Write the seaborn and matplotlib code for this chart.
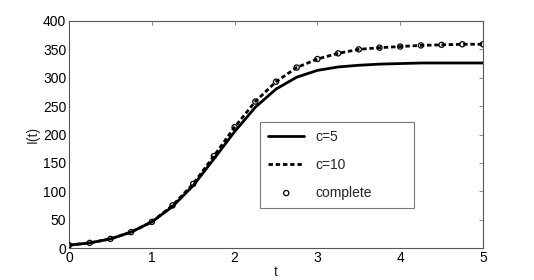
import matplotlib
matplotlib.use("Agg")
import matplotlib.pyplot as plt
import seaborn as sns
import pandas as pd

t = [0, 0.25, 0.5, 0.75, 1, 1.25, 1.5, 1.75, 2, 2.25, 2.5, 2.75, 3, 3.25, 3.5, 3.75, 4, 4.25, 4.5, 4.75, 5]
c5 = [5, 9, 16, 28, 46, 73, 110, 157, 205, 248, 280, 301, 313, 319, 322, 324, 325, 326, 326, 326, 326]
c10 = [5, 9, 16, 28, 46, 75, 113, 162, 213, 258, 293, 318, 333, 343, 350, 353, 355, 357, 358, 359, 359]
complete = [5, 9, 16, 28, 46, 75, 113, 162, 213, 258, 293, 318, 333, 343, 350, 353, 355, 357, 358, 359, 359]

sns.set_style("white")
plt.rcParams['font.family'] = ['Liberation Sans', 'DejaVu Sans']

df = pd.DataFrame({"t": t, "c5": c5, "c10": c10, "complete": complete})

fig = plt.figure(figsize=(5.34, 2.80), dpi=100)
ax = fig.add_axes([69/534, 1-248/280, 414/534, 227/280])

sns.lineplot(data=df, x="t", y="c5", ax=ax, color="black", lw=2, label="c=5")
sns.lineplot(data=df, x="t", y="c10", ax=ax, color="black", lw=2, dashes=False, label="c=10")
ax.lines[-1].set_dashes((1.6, 1.0))
sns.scatterplot(data=df, x="t", y="complete", ax=ax, marker="o", s=14,
                facecolor="none", edgecolor="black", linewidth=0.9, label="complete", zorder=5)

ax.set_xlim(0, 5)
ax.set_ylim(0, 400)
ax.set_xticks([0, 1, 2, 3, 4, 5])
ax.set_yticks(range(0, 401, 50))
ax.tick_params(direction="in", length=3, width=0.6, color="#777777", top=True, right=True,
               labelsize=10, labelcolor="black", pad=2)
for s in ax.spines.values():
    s.set_color("#555555")
    s.set_linewidth(0.8)
ax.set_xlabel("t", fontsize=10, labelpad=0)
ax.set_ylabel("I(t)", fontsize=10, labelpad=2)

leg = ax.legend(loc="lower left", bbox_to_anchor=(0.461, 0.176, 0.372, 0.375), mode="expand",
                frameon=True, fancybox=False, fontsize=10, handlelength=2.6, borderaxespad=0,
                labelspacing=1.0, borderpad=0.6)
leg.get_frame().set_edgecolor("#555555")
leg.get_frame().set_linewidth(0.8)

fig.savefig("out.png", dpi=100)
